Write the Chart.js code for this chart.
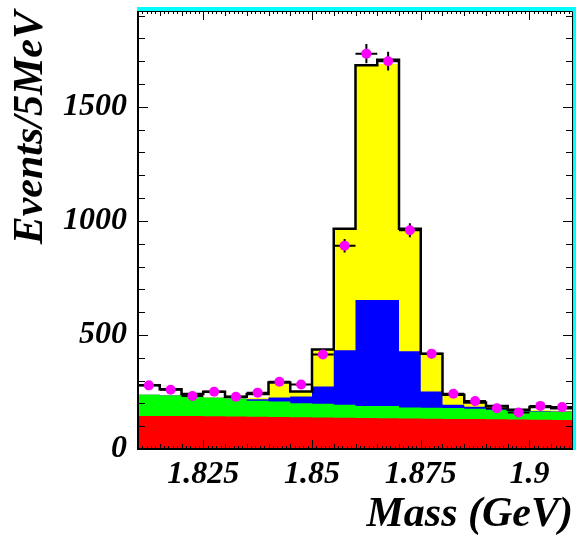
<!DOCTYPE html>
<html>
<head>
<meta charset="utf-8">
<script src="https://cdn.jsdelivr.net/npm/chart.js@4.4.1/dist/chart.umd.min.js"></script>
<style>
  html, body { margin: 0; padding: 0; background: #fff; }
  #wrap { width: 578px; height: 535px; }
</style>
</head>
<body>
<div id="wrap"><canvas id="massChart"></canvas></div>
<script>
// lower edges of the 5 MeV mass bins (GeV)
const massBins = [1.81, 1.815, 1.82, 1.825, 1.83, 1.835, 1.84, 1.845, 1.85, 1.855,
                  1.86, 1.865, 1.87, 1.875, 1.88, 1.885, 1.89, 1.895, 1.9, 1.905];
const massMin = 1.81;
const massMax = 1.91;
const binWidth = 0.005;

// stacked components (events / bin), bottom to top
const redComp    = [145, 145, 145, 144, 143, 141, 140, 139, 138, 137, 136, 135, 134, 133, 132, 131, 130, 129, 128, 127];
const greenComp  = [93, 90, 85, 81, 77, 71, 68, 62, 60, 57, 53, 54, 48, 48, 48, 45, 42, 36, 35, 35];
const blueComp   = [0, 0, 0, 0, 1, 6, 18, 29, 76, 239, 464, 464, 247, 71, 14, 9, 4, 3, 3, 2];
const yellowComp = [0, 0, 2, 1, 1, 7, 60, 20, 162, 532, 1029, 1035, 533, 163, 38, 15, 8, 2, 4, 4];

// total histogram outline
const totalLine = [279, 262, 241, 251, 229, 241, 292, 252, 436, 965, 1682, 1706, 965, 418, 238, 204, 189, 172, 184, 179];

// measured points and their errors
const dataPoints = [279, 260, 232, 251, 229, 247, 295, 283, 414, 891, 1733, 1700, 959, 418, 242, 210, 179, 160, 189, 184];
const dataErrors = [17, 16, 15, 16, 15, 16, 17, 17, 20, 30, 42, 41, 31, 20, 16, 14, 13, 13, 14, 14];

const yMax = 1920;
const xTickValues = [1.825, 1.85, 1.875, 1.9];
const xTickLabels = ["1.825", "1.85", "1.875", "1.9"];
const yTickValues = [0, 500, 1000, 1500];
const yTickLabels = ["0", "500", "1000", "1500"];

const serif = "'Liberation Serif', 'DejaVu Serif', serif";
const tickFont = { family: serif, size: 32, style: "italic", weight: "bold" };
const titleFont = { family: serif, size: 42, style: "italic", weight: "bold", lineHeight: 0.95 };

// running sums for the stacked fills
const addArrays = (a, b) => a.map((v, i) => v + b[i]);
const redTop = redComp;
const greenTop = addArrays(redTop, greenComp);
const blueTop = addArrays(greenTop, blueComp);
const yellowTop = addArrays(blueTop, yellowComp);

// step points at bin edges, last value repeated at the upper edge
const toSteps = (vals) => {
  const pts = massBins.map((m, i) => ({ x: m, y: vals[i] }));
  pts.push({ x: massMax, y: vals[vals.length - 1] });
  return pts;
};

const stepSet = (label, vals, color, order) => ({
  label,
  data: toSteps(vals),
  stepped: "before",
  borderWidth: 0,
  borderColor: color,
  backgroundColor: color,
  fill: "origin",
  pointRadius: 0,
  order,
});

const POINTS = 0;

// error crosses under the magenta markers
const errorBars = {
  id: "errorBars",
  beforeDatasetDraw(chart, args) {
    if (args.index !== POINTS) return;
    const { ctx } = chart;
    const xs = chart.scales.x;
    const ys = chart.scales.y;
    ctx.save();
    ctx.strokeStyle = "#000";
    ctx.lineWidth = 2;
    dataPoints.forEach((v, i) => {
      const lo = massBins[i];
      const xc = xs.getPixelForValue(lo + binWidth / 2);
      const yc = ys.getPixelForValue(v);
      ctx.beginPath();
      ctx.moveTo(xs.getPixelForValue(lo), yc);
      ctx.lineTo(xs.getPixelForValue(lo + binWidth), yc);
      ctx.moveTo(xc, ys.getPixelForValue(v - dataErrors[i]));
      ctx.lineTo(xc, ys.getPixelForValue(v + dataErrors[i]));
      ctx.stroke();
    });
    ctx.restore();
  },
};

// frame with inward ticks on all four sides
const frameTicks = {
  id: "frameTicks",
  afterDatasetsDraw(chart) {
    const { ctx, chartArea: a } = chart;
    const xs = chart.scales.x;
    const ys = chart.scales.y;
    ctx.save();
    ctx.strokeStyle = "#000";
    ctx.lineWidth = 1;
    ctx.beginPath();
    for (let m = 1810; m <= 1910; m++) {
      const x = Math.round(xs.getPixelForValue(m / 1000)) + 0.5;
      const len = m % 25 === 0 ? 9 : m % 5 === 0 ? 5 : 3;
      ctx.moveTo(x, a.bottom);
      ctx.lineTo(x, a.bottom - len);
      ctx.moveTo(x, a.top);
      ctx.lineTo(x, a.top + len);
    }
    for (let v = 0; v <= 1900; v += 100) {
      const y = Math.round(ys.getPixelForValue(v)) + 0.5;
      const len = v % 500 === 0 ? 10 : 7;
      ctx.moveTo(a.left, y);
      ctx.lineTo(a.left + len, y);
      ctx.moveTo(a.right, y);
      ctx.lineTo(a.right - len, y);
    }
    ctx.stroke();

    // axes lines
    ctx.lineWidth = 2;
    ctx.beginPath();
    ctx.moveTo(a.left, a.top);
    ctx.lineTo(a.left, a.bottom);
    ctx.lineTo(a.right, a.bottom);
    ctx.stroke();
    ctx.lineWidth = 1;
    ctx.beginPath();
    ctx.moveTo(a.left, a.top + 0.5);
    ctx.lineTo(a.right - 0.5, a.top + 0.5);
    ctx.lineTo(a.right - 0.5, a.bottom);
    ctx.stroke();

    // cyan edge along top and right
    ctx.fillStyle = "#00ffff";
    ctx.fillRect(a.left - 1, a.top - 4, a.right - a.left + 4, 4);
    ctx.fillRect(a.right, a.top - 4, 3, a.bottom - a.top + 5);
    ctx.restore();
  },
};

new Chart(document.getElementById("massChart"), {
  type: "line",
  data: {
    datasets: [
      {
        type: "scatter",
        label: "Data",
        data: dataPoints.map((v, i) => ({ x: massBins[i] + binWidth / 2, y: v })),
        pointRadius: 5,
        pointBorderWidth: 0,
        pointBackgroundColor: "#ff00ff",
        showLine: false,
        order: 0,
      },
      {
        label: "Total",
        data: toSteps(totalLine),
        stepped: "before",
        borderColor: "#000",
        borderWidth: 2.5,
        fill: false,
        pointRadius: 0,
        order: 1,
      },
      stepSet("Red", redTop, "#ff0000", 2),
      stepSet("Green", greenTop, "#00ff00", 3),
      stepSet("Blue", blueTop, "#0000ff", 4),
      stepSet("Yellow", yellowTop, "#ffff00", 5),
    ],
  },
  options: {
    responsive: true,
    maintainAspectRatio: false,
    animation: false,
    devicePixelRatio: 1,
    layout: { padding: { top: 11, right: 3 } },
    plugins: {
      legend: { display: false },
      tooltip: { enabled: false },
    },
    scales: {
      x: {
        type: "linear",
        min: massMin,
        max: massMax,
        grid: { display: false, drawTicks: false, tickLength: 0 },
        border: { display: false },
        afterBuildTicks: (s) => { s.ticks = xTickValues.map((v) => ({ value: v })); },
        afterFit: (s) => { s.height = 86; },
        ticks: {
          autoSkip: false,
          maxRotation: 0,
          padding: 7,
          color: "#000",
          font: tickFont,
          callback: (v, i) => xTickLabels[i],
        },
        title: {
          display: true,
          text: "Mass (GeV)",
          align: "end",
          color: "#000",
          font: titleFont,
          padding: 0,
        },
      },
      y: {
        min: 0,
        max: yMax,
        grid: { display: false, drawTicks: false, tickLength: 0 },
        border: { display: false },
        afterBuildTicks: (s) => { s.ticks = yTickValues.map((v) => ({ value: v })); },
        afterFit: (s) => {
          s.width = 138;
          s.paddingTop = 0;
          s.paddingBottom = 0;
        },
        ticks: {
          padding: 11,
          color: "#000",
          font: tickFont,
          callback: (v, i) => yTickLabels[i],
        },
        title: {
          display: true,
          text: "Events/5MeV",
          align: "end",
          color: "#000",
          font: titleFont,
          padding: { top: 11 },
        },
      },
    },
  },
  plugins: [errorBars, frameTicks],
});
</script>
</body>
</html>
